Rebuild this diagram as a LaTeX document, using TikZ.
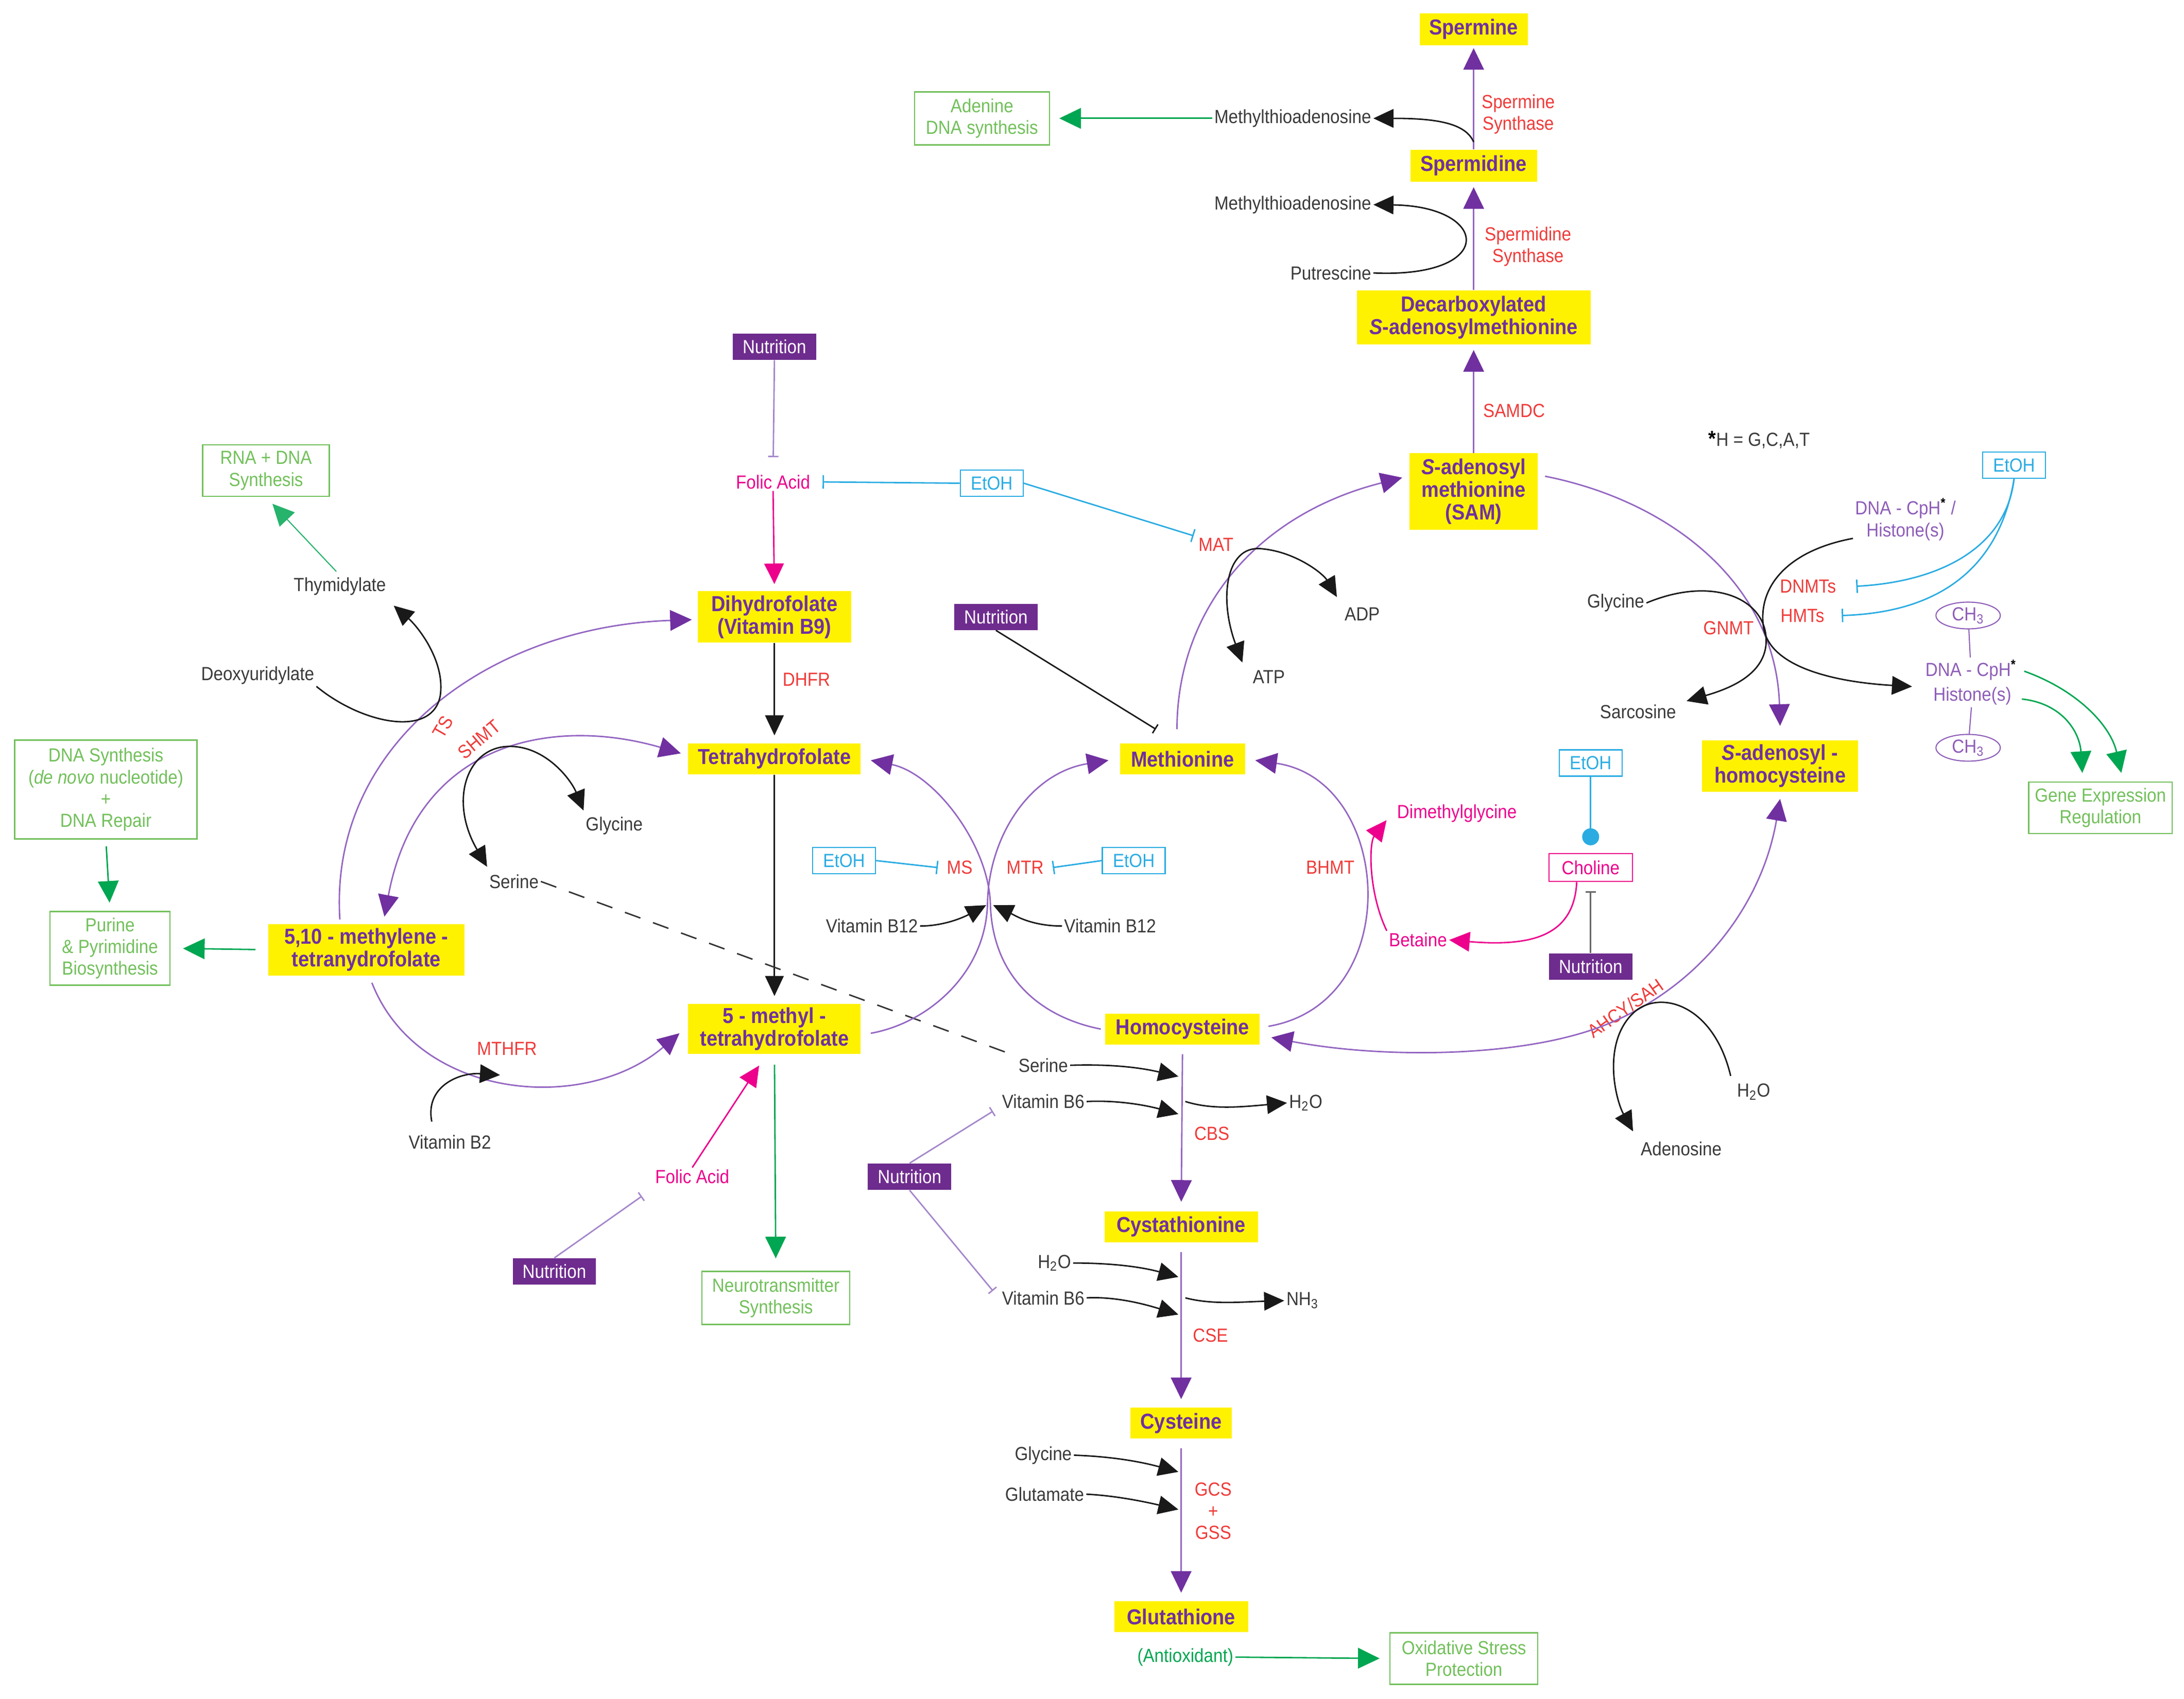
\documentclass[tikz,border=0pt]{standalone}
\usepackage{fontspec}
\setmainfont{Liberation Sans}[FakeStretch=0.9]
\usepackage{tikz}
\usetikzlibrary{arrows.meta,calc,shapes.geometric,positioning}

\definecolor{metyellow}{HTML}{FFF200}
\definecolor{metpurple}{HTML}{7030A0}
\definecolor{linepurple}{HTML}{9466C2}
\definecolor{nutpurple}{HTML}{6E2C8E}
\definecolor{nutline}{HTML}{A487CB}
\definecolor{etohblue}{HTML}{2AACE2}
\definecolor{folpink}{HTML}{EC008C}
\definecolor{enzred}{HTML}{EF3B39}
\definecolor{outgreen}{HTML}{00A651}
\definecolor{boxgreen}{HTML}{72C05B}
\definecolor{txtgray}{HTML}{3A3A3A}
\definecolor{epipurple}{HTML}{8E5DB8}

\begin{document}
\begin{tikzpicture}[x=0.02705cm,y=-0.02705cm,
font=\fontsize{10.5}{12}\selectfont, text=txtgray, inner sep=1pt,
metab/.style={fill=metyellow, text=metpurple, font=\fontsize{12}{12.5}\selectfont\bfseries, align=center, inner sep=0pt},
outc/.style={draw=boxgreen, line width=0.7pt, text=boxgreen, align=center, inner sep=0pt},
nutr/.style={fill=nutpurple, text=white, minimum width=16.2mm, minimum height=5.1mm, inner sep=0pt},
etoh/.style={draw=etohblue, line width=0.7pt, text=etohblue, minimum width=12.2mm, minimum height=5.1mm, inner sep=0pt},
enz/.style={text=enzred},
fol/.style={text=folpink},
epi/.style={text=epipurple},
methyl/.style={draw=epipurple, ellipse, line width=0.6pt, text=epipurple, minimum width=12.5mm, minimum height=5.2mm, inner sep=0pt},
conv/.style={draw=linepurple, line width=0.8pt, >={Triangle[length=4.2mm,width=4mm,color=metpurple]}, ->},
conv2/.style={conv, <->},
side/.style={draw=black!90, line width=0.8pt, >={Triangle[length=3.9mm,width=3.6mm]}, ->},
side2/.style={side, <->},
outarr/.style={draw=outgreen, line width=0.8pt, -{Triangle[length=4.2mm,width=4mm]}},
pinkarr/.style={draw=folpink, line width=0.8pt, -{Triangle[length=4mm,width=3.8mm]}},
etinh/.style={draw=etohblue, line width=0.8pt, -{Bar[width=2.6mm]}},
nutinh/.style={draw=nutline, line width=0.8pt, -{Bar[width=2mm]}}]

\useasboundingbox (0,0) rectangle (1568,1220);

% metabolites
\node[metab, minimum width=21mm, minimum height=6.2mm] (spm) at (1058,21) {Spermine};
\node[metab, minimum width=24.6mm, minimum height=6.2mm] (spd) at (1058,119) {Spermidine};
\node[metab, minimum width=45.4mm, minimum height=10.5mm] (dcsam) at (1058,228) {Decarboxylated\\\textit{S}-adenosylmethionine};
\node[metab, minimum width=24.9mm, minimum height=14.9mm] (sam) at (1058,353) {\textit{S}-adenosyl\\methionine\\(SAM)};
\node[metab, minimum width=29.8mm, minimum height=10mm] (dhf) at (556,443) {Dihydrofolate\\(Vitamin B9)};
\node[metab, minimum width=33.5mm, minimum height=6mm] (thf) at (556,545) {Tetrahydrofolate};
\node[metab, minimum width=24.3mm, minimum height=6mm] (met) at (849,545) {Methionine};
\node[metab, minimum width=30.3mm, minimum height=10mm] (sah) at (1278,550) {\textit{S}-adenosyl -\\homocysteine};
\node[metab, minimum width=38.1mm, minimum height=10mm] (mthf) at (263,682) {5,10 - methylene -\\tetranydrofolate};
\node[metab, minimum width=33.5mm, minimum height=9.7mm] (mthf5) at (556,739) {5 - methyl -\\tetrahydrofolate};
\node[metab, minimum width=30mm, minimum height=6mm] (hcy) at (849,739) {Homocysteine};
\node[metab, minimum width=29.8mm, minimum height=6mm] (cth) at (848,881) {Cystathionine};
\node[metab, minimum width=19.7mm, minimum height=6mm] (cys) at (848,1022) {Cysteine};
\node[metab, minimum width=26mm, minimum height=6mm] (gsh) at (848,1161) {Glutathione};

% outcomes
\node[outc, minimum width=26.2mm, minimum height=10.3mm] (ade) at (705,85) {Adenine\\DNA synthesis};
\node[outc, minimum width=24.6mm, minimum height=10mm] (rna) at (191,338) {RNA + DNA\\Synthesis};
\node[outc, minimum width=35.4mm, minimum height=19.2mm] (dnasyn) at (76,567) {DNA Synthesis\\(\textit{de novo} nucleotide)\\+\\DNA Repair};
\node[outc, minimum width=23.3mm, minimum height=14.3mm] (pur) at (79,681) {Purine\\\& Pyrimidine\\Biosynthesis};
\node[outc, minimum width=28.7mm, minimum height=10.3mm] (neuro) at (557,932) {Neurotransmitter\\Synthesis};
\node[outc, minimum width=27.9mm, minimum height=10mm] (gene) at (1508,580) {Gene Expression\\Regulation};
\node[outc, minimum width=28.7mm, minimum height=10mm] (oxi) at (1051,1191) {Oxidative Stress\\Protection};

% nutrition / ethanol
\node[nutr] (nut1) at (556,249) {Nutrition};
\node[nutr] (nut2) at (715,443) {Nutrition};
\node[nutr] (nut3) at (1142,694) {Nutrition};
\node[nutr] (nut4) at (653,845) {Nutrition};
\node[nutr] (nut5) at (398,913) {Nutrition};
\node[etoh] (etoh1) at (712,347) {EtOH};
\node[etoh] (etoh2) at (1446,334) {EtOH};
\node[etoh] (etoh3) at (1142,548) {EtOH};
\node[etoh] (etoh4) at (606,618) {EtOH};
\node[etoh] (etoh5) at (814,618) {EtOH};
\node[draw=folpink, line width=0.7pt, text=folpink, minimum width=16.2mm, minimum height=5.4mm, inner sep=0pt] (chol) at (1142,623) {Choline};

% labels
\node[anchor=east] (mta1) at (986,85) {Methylthioadenosine};
\node[anchor=east] (mta2) at (986,147) {Methylthioadenosine};
\node[anchor=east] (put) at (986,196) {Putrescine};
\node[enz, align=center] (spmsyn) at (1090,82) {Spermine\\Synthase};
\node[enz, align=center] (spdsyn) at (1097,177) {Spermidine\\Synthase};
\node[enz] (samdc) at (1087,295) {SAMDC};
\node (hnote) at (1263,316) {\textcolor{black}{\bfseries\large *}H = G,C,A,T};
\node[fol] (fol1) at (555,346) {Folic Acid};
\node[enz] (mat) at (873,391) {MAT};
\node (adp) at (978,441) {ADP};
\node (atp) at (911,486) {ATP};
\node (thy) at (244,421) {Thymidylate};
\node (dump) at (185,485) {Deoxyuridylate};
\node[enz, rotate=60] (ts) at (318,522) {TS};
\node[enz, rotate=40] (shmt) at (344,531) {SHMT};
\node[enz] (dhfr) at (579,488) {DHFR};
\node (gly1) at (441,593) {Glycine};
\node (ser1) at (369,633) {Serine};
\node[enz] (ms) at (689,623) {MS};
\node[enz] (mtr) at (736,623) {MTR};
\node (b12a) at (626,665) {Vitamin B12};
\node (b12b) at (797,665) {Vitamin B12};
\node[enz] (bhmt) at (955,623) {BHMT};
\node[fol] (dmg) at (1046,584) {Dimethylglycine};
\node[fol] (bet) at (1018,675) {Betaine};
\node (gly2) at (1160,433) {Glycine};
\node[enz] (gnmt) at (1241,451) {GNMT};
\node (sarc) at (1176,511) {Sarcosine};
\node[epi, align=center] (dna1) at (1368,373) {DNA - CpH\textsuperscript{\textcolor{black}{\bfseries *}} /\\Histone(s)};
\node[enz] (dnmt) at (1298,421) {DNMTs};
\node[enz] (hmt) at (1294,442) {HMTs};
\node[methyl] (ch3a) at (1413,442) {CH\textsubscript{3}};
\node[epi] (dna2) at (1415,481) {DNA - CpH\textsuperscript{\textcolor{black}{\bfseries *}}};
\node[epi] (hist) at (1416,500) {Histone(s)};
\node[methyl] (ch3b) at (1413,537) {CH\textsubscript{3}};
\node[enz] (mthfr) at (364,753) {MTHFR};
\node (b2) at (323,820) {Vitamin B2};
\node[fol] (fol2) at (497,845) {Folic Acid};
\node[enz, rotate=35] (ahcy) at (1167,724) {AHCY/SAH};
\node (h2o1) at (1259,784) {H\textsubscript{2}O};
\node (ado) at (1207,825) {Adenosine};
\node (ser2) at (749,765) {Serine};
\node (b6a) at (749,791) {Vitamin B6};
\node[anchor=west] (h2o2) at (924,792) {H\textsubscript{2}O};
\node[enz] (cbs) at (870,814) {CBS};
\node (h2o3) at (757,907) {H\textsubscript{2}O};
\node (b6b) at (749,932) {Vitamin B6};
\node[anchor=west] (nh3) at (922,934) {NH\textsubscript{3}};
\node[enz] (cse) at (869,959) {CSE};
\node (gly3) at (749,1045) {Glycine};
\node (glu) at (750,1073) {Glutamate};
\node[enz, align=center] (gcs) at (871,1085) {GCS\\+\\GSS};
\node[text=outgreen] (antiox) at (851,1190) {(Antioxidant)};

% free ends on the reaction lines
\coordinate (spmline) at (1058,102);
\coordinate (b12l) at (708,650);
\coordinate (b12r) at (713,650);
\coordinate (mthfrin) at (359,772);
\coordinate (cbsin1) at (846,773);
\coordinate (cbsin2) at (846,800);
\coordinate (cbsout) at (851,791);
\coordinate (csein1) at (846,917);
\coordinate (csein2) at (846,944);
\coordinate (cseout) at (851,932);
\coordinate (gcsin1) at (846,1057);
\coordinate (gcsin2) at (846,1084);

% polyamines
\draw[conv, shorten >=1mm] (dcsam.north) -- (spd.south);
\draw[conv, shorten >=0.5mm] (spd.north) -- (spm.south);
\draw[conv, shorten >=1mm] (sam.north) -- (dcsam.south);
\draw[side] (spmline) .. controls (1052,88) and (1030,85) .. (mta1.east);
\draw[side] (put.east) .. controls (1075,200) and (1070,148) .. (mta2.east);
\draw[outarr, shorten >=1.8mm] (mta1.west) -- (ade.east);

% folate cycle
\draw[nutinh, shorten >=3mm] (nut1.south) -- (fol1.north);
\draw[etinh, shorten >=2mm] (etoh1.west) -- (fol1.east);
\draw[pinkarr, shorten >=1.3mm] (fol1.south) -- (dhf.north);
\draw[side, shorten >=1.5mm] (dhf.south) -- (thf.north);
\draw[side, shorten >=1.5mm] (thf.south) -- (mthf5.north);
\draw[outarr, shorten <=2mm, shorten >=2.4mm] (mthf5.south) -- (neuro.north);
\draw[conv] ($(mthf.north)+(-19,-3)$) .. controls (236,535) and (350,450) .. ($(dhf.west)+(-4,2)$);
\draw[side] (dump.south east) .. controls (260,520) and (310,530) .. (316,500) .. controls (320,475) and (300,450) .. ($(thy.south east)+(4,6)$);
\draw[outarr, draw=outgreen!85, line width=0.6pt, shorten <=1mm, shorten >=1.8mm] (thy.north) -- (rna.south);
\draw[conv2] ($(thf.west)+(-5,-4)$) .. controls (400,515) and (300,530) .. ($(mthf.north)+(13,-5)$);
\draw[side2] ($(ser1.north west)+(0,-4)$) .. controls (322,575) and (335,536) .. (366,536) .. controls (392,536) and (410,560) .. ($(gly1.north west)+(0,-3)$);
\draw[dash pattern=on 3.2mm off 2.6mm, line width=0.8pt, black!80] (ser1.east) -- (ser2.north west);
\draw[conv] ($(mthf.south)+(4,5)$) .. controls (300,790) and (420,800) .. ($(mthf5.west)+(-6,3)$);
\draw[side] ($(b2.north)+(-13,-8)$) .. controls (305,780) and (330,770) .. (mthfrin);
\draw[nutinh] (nut5.north) -- ($(fol2.west)+(-8,14)$);
\draw[pinkarr] (fol2.north) -- ($(mthf5.south)+(-11,8)$);
\draw[outarr, shorten <=2.4mm, shorten >=2.4mm] (mthf.west) -- (pur.east);
\draw[outarr, shorten <=1.3mm, shorten >=1.6mm] (dnasyn.south) -- (pur.north);

% methionine cycle
\draw[conv] ($(mthf5.east)+(7,3)$) .. controls (665,735) and (708,700) .. (709,648) .. controls (710,600) and (740,555) .. ($(met.west)+(-8,1)$);
\draw[conv] ($(hcy.west)+(-3,0)$) .. controls (745,730) and (712,700) .. (711,648) .. controls (709,605) and (670,555) .. ($(thf.east)+(7,1)$);
\draw[etinh] (etoh4.east) -- ($(ms.west)+(-5,0)$);
\draw[etinh] (etoh5.west) -- ($(mtr.east)+(5,0)$);
\draw[side] (b12a.east) .. controls (680,665) and (695,657) .. (b12l);
\draw[side] (b12b.west) .. controls (740,665) and (728,657) .. (b12r);
\draw[conv] ($(hcy.east)+(6,-2)$) .. controls (1010,720) and (1000,560) .. ($(met.east)+(7,1)$);
\draw[pinkarr] (bet.north west) .. controls (982,640) and (983,605) .. ($(dmg.west)+(-6,5)$);
\draw[pinkarr] ($(chol.south)+(-10,0)$) .. controls (1130,672) and (1100,680) .. (bet.east);
\draw[etohblue, line width=0.8pt, -{Circle[length=3.3mm]}, shorten >=1.5mm] (etoh3.south) -- (chol.north);
\draw[black!60, line width=0.8pt, -{Bar[width=2mm]}, shorten >=1.8mm] (nut3.north) -- (chol.south);
\draw[side, -{Bar[width=2mm]}] (nut2.south) -- ($(met.north west)+(26,-10)$);

% SAM and methylation
\draw[conv] ($(met.north)+(-4,-10)$) .. controls (845,440) and (900,370) .. ($(sam.west)+(-5,-10)$);
\draw[side2] ($(atp.north west)+(-6,-4)$) .. controls (875,430) and (880,392) .. (905,394) .. controls (930,396) and (950,412) .. ($(adp.north west)+(-4,-6)$);
\draw[etinh] (etoh1.east) -- ($(mat.north west)+(-2,0)$);
\draw[conv] ($(sam.east)+(5,-11)$) .. controls (1200,360) and (1275,420) .. ($(sah.north)+(0,-10)$);
\draw[side] (gly2.east) .. controls (1230,413) and (1268,430) .. (1268,460) .. controls (1268,485) and (1240,495) .. ($(sarc.north east)+(6,-1)$);
\draw[side] ($(dna1.south west)+(0,-3)$) .. controls (1285,395) and (1262,420) .. (1266,450) .. controls (1270,480) and (1320,490) .. ($(dna2.west)+(-8,12)$);
\draw[etinh] (etoh2.south) .. controls (1440,395) and (1390,418) .. ($(dnmt.east)+(13,0)$);
\draw[etinh] (etoh2.south) .. controls (1435,410) and (1390,440) .. ($(hmt.east)+(11,0)$);
\draw[epipurple, line width=0.6pt] (ch3a) -- (dna2);
\draw[epipurple, line width=0.6pt] (hist) -- (ch3b);
\draw[outarr] ($(dna2.east)+(4,1)$) .. controls (1490,495) and (1515,520) .. ($(gene.north)+(15,-6)$);
\draw[outarr] ($(hist.east)+(6,2)$) .. controls (1480,505) and (1493,525) .. ($(gene.north)+(-13,-6)$);
\draw[conv2] ($(hcy.east)+(8,6)$) .. controls (990,760) and (1090,760) .. (1150,737) .. controls (1220,710) and (1265,650) .. ($(sah.south)+(0,5)$);
\draw[side] ($(h2o1.north west)+(-3,-4)$) .. controls (1230,720) and (1190,710) .. (1172,728) .. controls (1150,750) and (1160,790) .. ($(ado.north west)+(-4,-6)$);

% transsulfuration
\draw[conv, shorten <=1.8mm, shorten >=1.8mm] (hcy.south) -- (cth.north);
\draw[conv, shorten <=1.8mm, shorten >=1.6mm] (cth.south) -- (cys.north);
\draw[conv, shorten <=1.8mm, shorten >=1.6mm] (cys.south) -- (gsh.north);
\draw[side] (ser2.east) .. controls (800,764) and (820,767) .. (cbsin1);
\draw[side] (b6a.east) .. controls (800,790) and (820,793) .. (cbsin2);
\draw[side] (cbsout) .. controls (870,797) and (890,795) .. (h2o2.west);
\draw[side] (h2o3.east) .. controls (800,907) and (820,910) .. (csein1);
\draw[side] (b6b.east) .. controls (800,931) and (820,936) .. (csein2);
\draw[side] (cseout) .. controls (870,937) and (890,935) .. (nh3.west);
\draw[side] (gly3.east) .. controls (800,1046) and (820,1050) .. (gcsin1);
\draw[side] (glu.east) .. controls (800,1074) and (820,1078) .. (gcsin2);
\draw[nutinh] (nut4.north) -- ($(b6a.west)+(-5,7)$);
\draw[nutinh] (nut4.south) -- ($(b6b.west)+(-5,-5)$);
\draw[outarr, shorten >=1.9mm] (antiox.east) -- (oxi.west);
\end{tikzpicture}
\end{document}
